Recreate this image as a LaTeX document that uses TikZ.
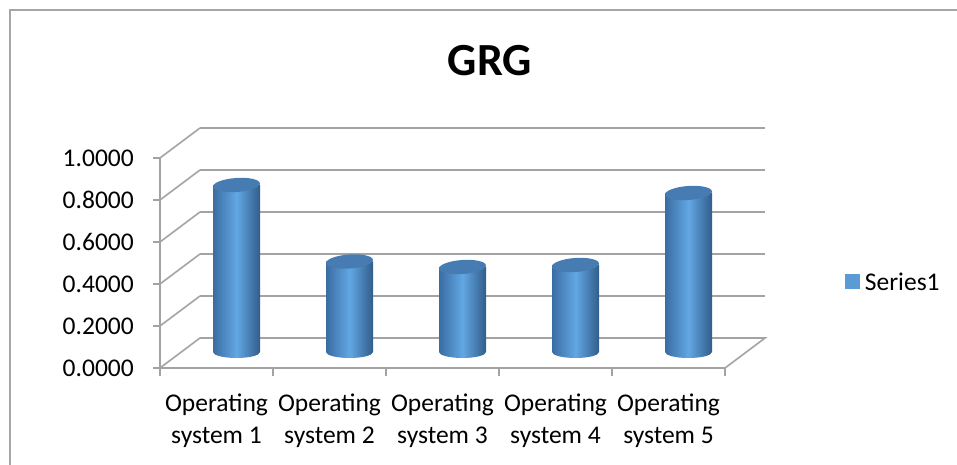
\documentclass[tikz,border=0pt]{standalone}
\usepackage{fontspec}
\setmainfont{Carlito}

\definecolor{gridgray}{HTML}{A3A3A3}
\definecolor{framegray}{HTML}{A6A6A6}
\definecolor{cyldark}{HTML}{3A6DA3}
\definecolor{cyllight}{HTML}{62A7E3}
\definecolor{cyltop}{HTML}{467CB2}
\definecolor{legendblue}{HTML}{5B9BD5}

\tikzset{
  lab/.style={font=\fontsize{25.5}{32}\selectfont, inner sep=0pt},
  grid/.style={draw=gridgray, line width=1.6pt},
}

% 圆柱: 名字, x, 顶部 y
\newcommand{\drawcyl}[3]{%
  \shade[left color=cyldark, right color=cyldark!85!black, middle color=cyllight]
    (#2-23.5,113) -- (#2-23.5,#3) -- (#2+23.5,#3) -- (#2+23.5,113)
    arc[start angle=0, end angle=-180, x radius=23.5, y radius=6] -- cycle;
  \fill[cyltop, rotate around={4:(#2,#3)}] (#2,#3) ellipse[x radius=23.5, y radius=7];
  \coordinate (#1) at (#2,#3);
}

\begin{document}
\begin{tikzpicture}[x=1pt, y=1pt]
        \useasboundingbox (0,0) rectangle (957,465);

        % 外框
        \draw[framegray, line width=1.5pt] (10,0) -- (10,455) -- (957,455);

        % 标题
        \node[font=\bfseries\fontsize{46}{50}\selectfont] (title) at (490,404) {GRG};

        % 坐标点
        \coordinate (f0) at (160,97);
        \coordinate (f1) at (160,307);
        \coordinate (fr) at (725,97);
        \coordinate (b0) at (200,127);
        \coordinate (br) at (765,127);

        % 后墙网格线
        \draw[grid] (200,169) -- (765,169);
        \draw[grid] (200,211) -- (765,211);
        \draw[grid] (200,253) -- (765,253);
        \draw[grid] (200,295) -- (765,295);
        \draw[grid] (200,337) -- (765,337);

        % 左墙斜线
        \draw[grid] (160,139) -- (200,169);
        \draw[grid] (160,181) -- (200,211);
        \draw[grid] (160,223) -- (200,253);
        \draw[grid] (160,265) -- (200,295);
        \draw[grid] (160,307) -- (200,337);

        % 底面
        \draw[grid] (f0) -- (fr) -- (br) -- (b0) -- cycle;
        \draw[grid] (f0) -- (f1);

        % 刻度
        \draw[grid] (153,97) -- (160,97);
        \draw[grid] (153,139) -- (160,139);
        \draw[grid] (153,181) -- (160,181);
        \draw[grid] (153,223) -- (160,223);
        \draw[grid] (153,265) -- (160,265);
        \draw[grid] (153,307) -- (160,307);
        \draw[grid] (160,97) -- (160,89);
        \draw[grid] (273,97) -- (273,89);
        \draw[grid] (386,97) -- (386,89);
        \draw[grid] (499,97) -- (499,89);
        \draw[grid] (612,97) -- (612,89);
        \draw[grid] (725,97) -- (725,89);

        % 纵轴标签
        \node[lab, anchor=east] (y0) at (134,97) {0.0000};
        \node[lab, anchor=east] (y2) at (134,139) {0.2000};
        \node[lab, anchor=east] (y4) at (134,181) {0.4000};
        \node[lab, anchor=east] (y6) at (134,223) {0.6000};
        \node[lab, anchor=east] (y8) at (134,265) {0.8000};
        \node[lab, anchor=east] (y10) at (134,307) {1.0000};

        % 圆柱
        \drawcyl{s1}{236.5}{280}
        \drawcyl{s2}{349.5}{203.5}
        \drawcyl{s3}{462.5}{198}
        \drawcyl{s4}{575.5}{200}
        \drawcyl{s5}{688.5}{272}

        % 横轴标签
        \node[lab, align=center] (c1) at (216.5,44) {Operating\\system 1};
        \node[lab, align=center] (c2) at (329.5,44) {Operating\\system 2};
        \node[lab, align=center] (c3) at (442.5,44) {Operating\\system 3};
        \node[lab, align=center] (c4) at (555.5,44) {Operating\\system 4};
        \node[lab, align=center] (c5) at (668.5,44) {Operating\\system 5};

        % 图例
        \node[fill=legendblue, minimum size=15pt, inner sep=0pt] (key) at (852,183.5) {};
        \node[lab, anchor=west] (series) at ([xshift=5pt]key.east) {Series1};
    \end{tikzpicture}
\end{document}
